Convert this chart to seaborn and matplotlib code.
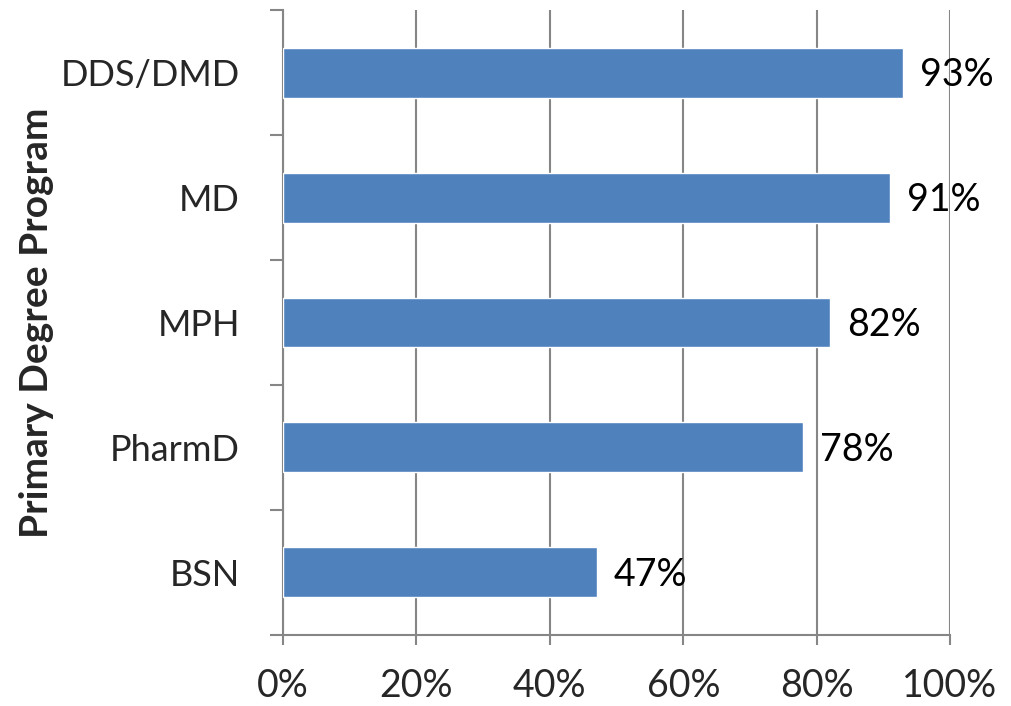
import matplotlib
matplotlib.use("Agg")
import matplotlib.pyplot as plt
import seaborn as sns
import pandas as pd
from matplotlib.ticker import FixedLocator, PercentFormatter

programs = ["DDS/DMD", "MD", "MPH", "PharmD", "BSN"]
shares = [93, 91, 82, 78, 47]
x_ticks = [0, 20, 40, 60, 80, 100]

sns.set_style("white")
plt.rcParams["font.family"] = ["Lato", "DejaVu Sans"]

df = pd.DataFrame({"program": programs, "share": shares})

fig = plt.figure(figsize=(10.11, 7.06), dpi=100)
ax = fig.add_axes([0.280, 0.1006, 0.6597, 0.8852])

sns.barplot(data=df, x="share", y="program", order=programs, orient="h",
            color="#4F81BD", saturation=1, width=0.4, ax=ax, zorder=3)

grey = "#868686"
ax.set_xlim(0, 100)
ax.set_ylim(len(programs) - 0.5, -0.5)
ax.set_xticks(x_ticks)
ax.xaxis.set_major_formatter(PercentFormatter(decimals=0))
ax.grid(axis="x", color=grey, linewidth=1.5, zorder=0)
ax.set_axisbelow(True)

# category boundary ticks on the y axis
ax.yaxis.set_minor_locator(FixedLocator([i - 0.5 for i in range(len(programs) + 1)]))
ax.tick_params(axis="y", which="minor", length=9.5, width=1.5, color=grey, left=True)
ax.tick_params(axis="y", which="major", length=0, pad=31, labelsize=26)
ax.tick_params(axis="x", which="major", length=7.5, width=1.5, color=grey, bottom=True,
               pad=16, labelsize=27)

for side in ["top", "right"]:
    ax.spines[side].set_visible(False)
for side in ["left", "bottom"]:
    ax.spines[side].set_color(grey)
    ax.spines[side].set_linewidth(1.5)

ax.set_xlabel("")
ax.set_ylabel("Primary Degree Program", fontsize=28, fontweight="bold", labelpad=5)

for i, v in enumerate(shares):
    ax.annotate(f"{v}%", xy=(v, i), xytext=(12, -2), textcoords="offset points",
                va="center", ha="left", fontsize=27, color="black", zorder=5)

fig.savefig("out.png", dpi=100)
